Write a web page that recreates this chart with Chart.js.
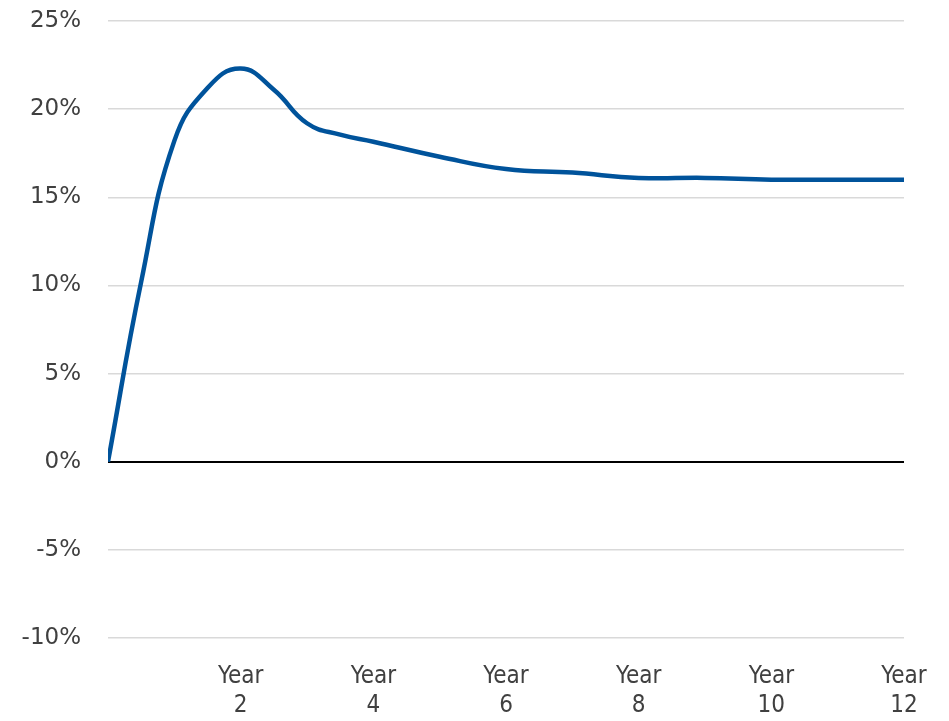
<!DOCTYPE html>
<html>
<head>
<meta charset="utf-8">
<title>Growth by year</title>
<script src="https://cdn.jsdelivr.net/npm/chart.js@4/dist/chart.umd.min.js"></script>
<style>
  html, body { margin: 0; padding: 0; background: #fff; }
  #wrap { width: 949px; height: 721px; }
</style>
</head>
<body>
<div id="wrap"><canvas id="growth"></canvas></div>
<script>
// years since start and growth rate (%)
const years = [0, 0.5, 1, 1.5, 2, 2.5, 3, 3.5, 4, 5, 6, 7, 8, 9, 10, 11, 12];
const growth = [0, 10.2, 18.2, 21.2, 22.3, 21.1, 19.2, 18.55, 18.15, 17.3, 16.6, 16.4, 16.1, 16.1, 16.0, 16.0, 16.0];

// labelled years on the x axis
const labelYears = [2, 4, 6, 8, 10, 12];
const xTickLabels = [['Year', '2'], ['Year', '4'], ['Year', '6'], ['Year', '8'], ['Year', '10'], ['Year', '12']];

const textColor = '#404040';
const lineColor = '#00539b';

const points = years.map((y, i) => ({ x: y, y: growth[i] }));

new Chart(document.getElementById('growth'), {
  type: 'line',
  data: {
    datasets: [
      {
        data: points,
        borderColor: lineColor,
        borderWidth: 4.5,
        pointRadius: 0,
        tension: 0.45,
        fill: false,
      },
    ],
  },
  options: {
    responsive: true,
    maintainAspectRatio: false,
    animation: false,
    layout: {
      padding: { top: 21, right: 45, left: 0, bottom: 0 },
    },
    plugins: {
      legend: { display: false },
      tooltip: { enabled: false },
    },
    scales: {
      x: {
        type: 'linear',
        min: 0,
        max: 12,
        grid: { display: false },
        border: { display: false },
        afterBuildTicks: (scale) => {
          scale.ticks = labelYears.map((v) => ({ value: v }));
        },
        afterFit: (scale) => {
          scale.height = 83;
        },
        ticks: {
          autoSkip: false,
          maxRotation: 0,
          padding: 16,
          color: textColor,
          font: { family: '"DejaVu Sans Condensed", "Liberation Sans Narrow", "DejaVu Sans"', size: 24, lineHeight: 1.22 },
          callback: (value) => {
            const i = labelYears.indexOf(value);
            return i >= 0 ? xTickLabels[i] : '';
          },
        },
      },
      y: {
        min: -10,
        max: 25,
        border: { display: false },
        grid: {
          // invisible tick marks keep the labels away from the plot
          tickLength: 27,
          tickColor: 'rgba(0,0,0,0)',
          color: (ctx) => (ctx.tick && ctx.tick.value === 0 ? '#000000' : '#d9d9d9'),
          lineWidth: (ctx) => (ctx.tick && ctx.tick.value === 0 ? 2 : 1.5),
        },
        afterFit: (scale) => {
          scale.width = 108;
        },
        ticks: {
          stepSize: 5,
          padding: 0,
          color: textColor,
          font: { family: '"DejaVu Sans", Verdana, sans-serif', size: 23 },
          callback: (value) => value + '%',
        },
      },
    },
  },
});
</script>
</body>
</html>
